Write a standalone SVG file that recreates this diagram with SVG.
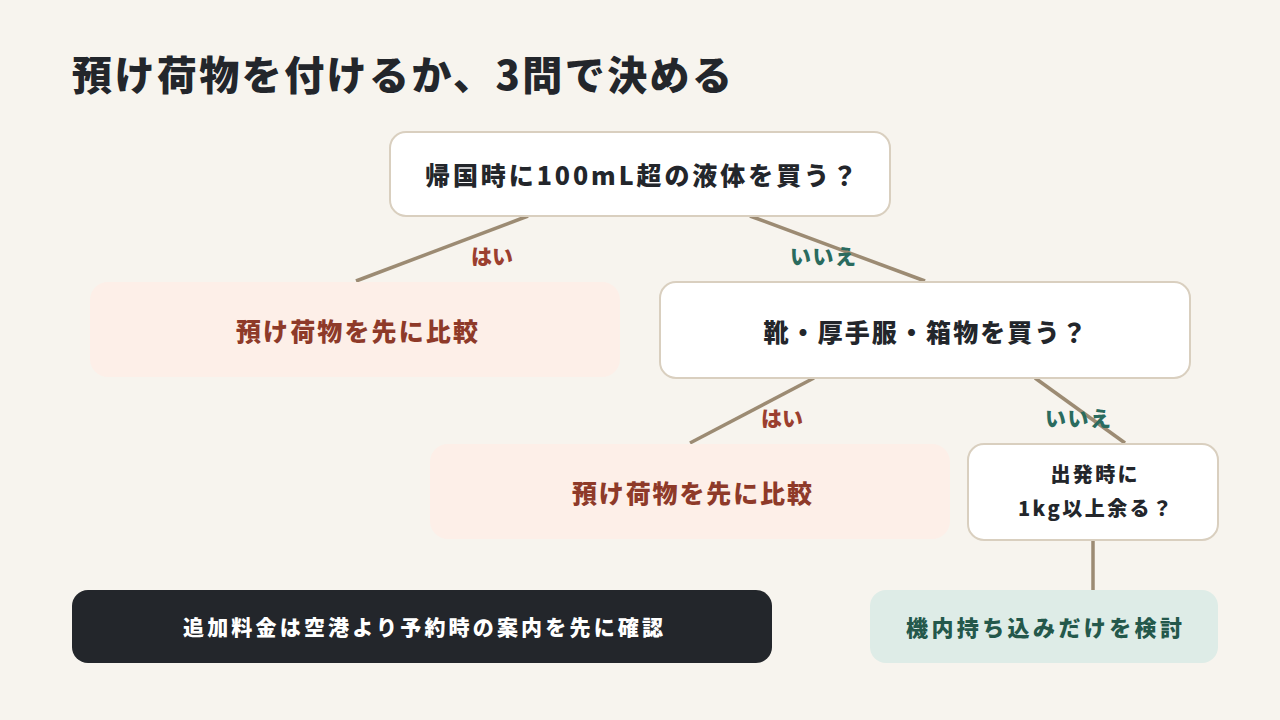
<svg xmlns="http://www.w3.org/2000/svg" width="1280" height="720" viewBox="0 0 1280 720">
<style>
text{font-family:"Noto Sans CJK JP","Liberation Sans",sans-serif;font-weight:900;text-anchor:middle;dominant-baseline:central}
.q{fill:#fff;stroke:#d9cfbf;stroke-width:2}
.qt{fill:#23262b;font-size:25px}
.p{fill:#fdefe8}
.pt{fill:#8e3a29;font-size:25px}
.c{stroke:#9c8b73;stroke-width:3.5;fill:none}
.yes{fill:#9b3f2f;font-size:21px}
.no{fill:#2a6b5e;font-size:21px}
</style>
<rect width="1280" height="720" fill="#f7f4ee"/>
<text x="72" y="73" style="text-anchor:start;font-size:40px" fill="#23262b" textLength="660" lengthAdjust="spacing">預け荷物を付けるか、3問で決める</text>
<g id="connectors">
<line class="c" x1="528" y1="216" x2="356" y2="281"/>
<line class="c" x1="750" y1="216" x2="925" y2="281"/>
<line class="c" x1="814" y1="378" x2="690" y2="443"/>
<line class="c" x1="1035" y1="378" x2="1125" y2="443"/>
<line class="c" x1="1093" y1="540" x2="1093" y2="590"/>
<text class="yes" x="492" y="255" textLength="42">はい</text>
<text class="no" x="823" y="255" textLength="66">いいえ</text>
<text class="yes" x="782" y="417" textLength="42">はい</text>
<text class="no" x="1078" y="417" textLength="66">いいえ</text>
</g>
<g id="q1"><rect class="q" x="390" y="132" width="500" height="84" rx="16"/><text class="qt" x="641" y="174" textLength="432">帰国時に100mL超の液体を買う？</text></g>
<g id="a1"><rect class="p" x="90" y="282" width="530" height="95" rx="18"/><text class="pt" x="357" y="330" textLength="242">預け荷物を先に比較</text></g>
<g id="q2"><rect class="q" x="660" y="282" width="530" height="96" rx="16"/><text class="qt" x="925" y="331" textLength="323">靴・厚手服・箱物を買う？</text></g>
<g id="a2"><rect class="p" x="430" y="444" width="520" height="95" rx="18"/><text class="pt" x="692" y="492" textLength="240">預け荷物を先に比較</text></g>
<g id="q3"><rect class="q" x="968" y="444" width="250" height="96" rx="16"/><text class="qt" x="1094" y="473" style="font-size:20px" textLength="87">出発時に</text><text class="qt" x="1095" y="507" style="font-size:20px" textLength="154">1kg以上余る？</text></g>
<g id="a3"><rect x="870" y="590" width="348" height="73" rx="16" fill="#deece7"/><text x="1044" y="626" fill="#24584b" style="font-size:22px" textLength="276">機内持ち込みだけを検討</text></g>
<g id="note"><rect x="72" y="590" width="700" height="73" rx="16" fill="#23262b"/><text x="423" y="626" fill="#fff" style="font-size:21px" textLength="480">追加料金は空港より予約時の案内を先に確認</text></g>
</svg>
